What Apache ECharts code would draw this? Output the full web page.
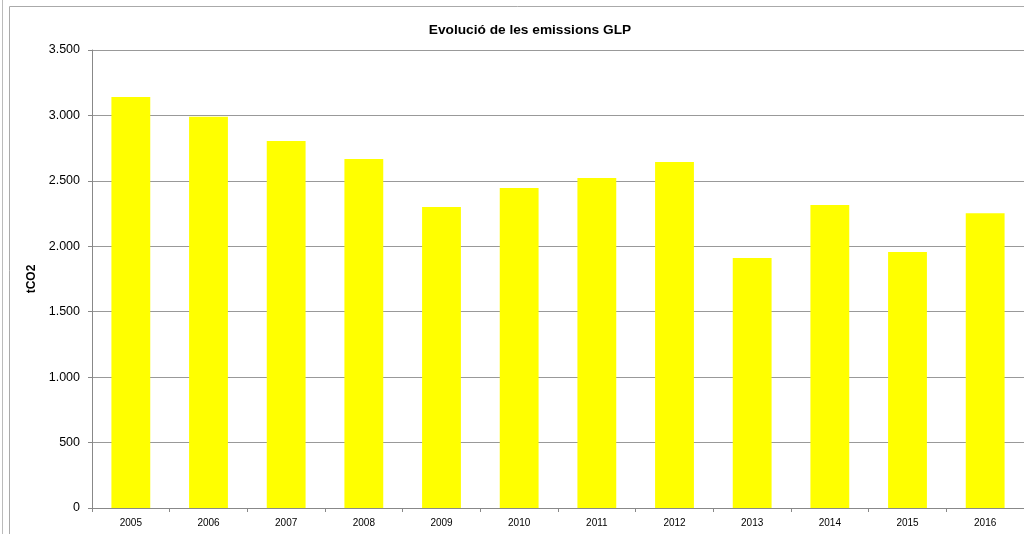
<!DOCTYPE html>
<html>
<head>
<meta charset="utf-8">
<script src="https://cdn.jsdelivr.net/npm/echarts@6/dist/echarts.min.js"></script>
<style>
  html, body { margin: 0; padding: 0; background: #fff; }
  #chart { width: 1024px; height: 534px; }
</style>
</head>
<body>
<div id="chart"></div>
<script>
// dades
const years = ['2005', '2006', '2007', '2008', '2009', '2010', '2011', '2012', '2013', '2014', '2015', '2016'];
const emissions = [3140, 2990, 2805, 2667, 2300, 2445, 2522, 2644, 1910, 2315, 1956, 2252];

const fmt = v => String(v).replace(/\B(?=(\d{3})+(?!\d))/g, '.');

const chart = echarts.init(document.getElementById('chart'));

chart.setOption({
  animation: false,
  backgroundColor: '#fff',
  title: {
    text: 'Evolució de les emissions GLP',
    left: 525,
    top: 18,
    textAlign: 'center',
    textStyle: { fontFamily: 'Liberation Sans', fontSize: 13.7, fontWeight: 'bold', color: '#000' }
  },
  // marcs exteriors
  graphic: [
    { type: 'line', shape: { x1: 2.5, y1: 0, x2: 2.5, y2: 534 }, style: { stroke: '#bbb', lineWidth: 1 } },
    { type: 'rect', shape: { x: 9.5, y: 6.5, width: 1030, height: 540 }, style: { fill: 'none', stroke: '#aaa', lineWidth: 1 } }
  ],
  grid: { left: 92, top: 50, right: 0, bottom: 26 },
  xAxis: {
    type: 'category',
    data: years,
    axisLine: { lineStyle: { color: '#888' } },
    axisTick: { show: true, length: 4, lineStyle: { color: '#888' } },
    axisLabel: { fontFamily: 'Liberation Sans', fontSize: 10, color: '#000', margin: 10 }
  },
  yAxis: {
    type: 'value',
    min: 0,
    max: 3500,
    interval: 500,
    name: 'tCO2',
    nameLocation: 'middle',
    nameGap: 47,
    nameTextStyle: { fontFamily: 'Liberation Sans', fontSize: 12, fontWeight: 'bold', color: '#000' },
    axisLine: { show: true, lineStyle: { color: '#888' } },
    axisTick: { show: true, length: 4, lineStyle: { color: '#888' } },
    axisLabel: { fontFamily: 'Liberation Sans', fontSize: 12.5, color: '#000', margin: 12, formatter: fmt },
    splitLine: { lineStyle: { color: '#999' } }
  },
  series: [{
    type: 'bar',
    data: emissions,
    barCategoryGap: '50%',
    itemStyle: { color: '#ffff00' }
  }]
});
</script>
</body>
</html>
